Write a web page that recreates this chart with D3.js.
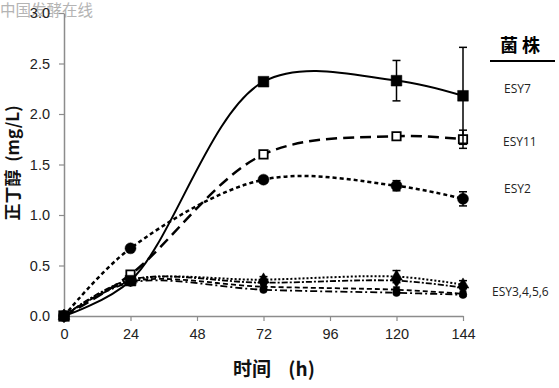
<!DOCTYPE html>
<html>
<head>
<meta charset="utf-8">
<script src="https://cdn.jsdelivr.net/npm/d3@7"></script>
<style>
  body { margin: 0; background: #fff; }
  svg { display: block; }
</style>
</head>
<body>
<svg width="559" height="388"></svg>
<script>
// time points (h)
const hours = [0, 24, 72, 120, 144]
const yTicks = [0, 0.5, 1.0, 1.5, 2.0, 2.5, 3.0]

// butanol (mg/L)
const esy7 = [0, 0.35, 2.32, 2.33, 2.18]
const esy7Err = [0, 0.02, 0.03, 0.2, 0.48]
const esy11 = [0, 0.41, 1.60, 1.78, 1.75]
const esy11Err = [0, 0.02, 0.03, 0.03, 0.09]
const esy2 = [0, 0.67, 1.35, 1.29, 1.16]
const esy2Err = [0, 0.02, 0.03, 0.05, 0.07]
const esy3 = [0, 0.35, 0.36, 0.39, 0.31]
const esy3Err = [0, 0.02, 0.03, 0.06, 0.04]
const esy4 = [0, 0.36, 0.33, 0.35, 0.28]
const esy5 = [0, 0.34, 0.29, 0.26, 0.22]
const esy6 = [0, 0.33, 0.26, 0.23, 0.21]

const legendLabels = ["ESY7", "ESY11", "ESY2", "ESY3,4,5,6"]

const svg = d3.select('svg')

const x = d3.scaleLinear().domain([0, 144]).range([64, 463])
const y = d3.scaleLinear().domain([0, 3]).range([316, 13])

// watermark
svg.append('text')
    .attr('x', 0).attr('y', 16)
    .attr('font-family', 'Noto Sans CJK SC')
    .attr('font-size', 15.5)
    .attr('fill', '#b4b4b4')
    .text('中国发酵在线')

// axes
const yAxis = svg.append('g')
    .attr('transform', 'translate(64,0)')
    .call(d3.axisLeft(y).tickValues(yTicks).tickFormat(d3.format('.1f')).tickSize(5).tickSizeOuter(0).tickPadding(9))
const xAxis = svg.append('g')
    .attr('transform', 'translate(0,316)')
    .call(d3.axisBottom(x).tickValues(hours.concat([48, 96])).tickSize(5).tickSizeOuter(0).tickPadding(8))

;[yAxis, xAxis].forEach(g => {
    g.select('.domain').attr('stroke', '#8c8c8c').attr('stroke-width', 1.5)
    g.selectAll('.tick line').attr('stroke', '#8c8c8c').attr('stroke-width', 1.2)
    g.selectAll('.tick text')
        .attr('font-family', 'Liberation Sans, Arial, sans-serif')
        .attr('font-size', 14.5)
        .attr('fill', '#222')
})

// axis titles
svg.append('text')
    .attr('transform', 'translate(19,163) rotate(-90)')
    .attr('text-anchor', 'middle')
    .attr('font-family', 'Noto Sans CJK SC')
    .attr('font-weight', 'bold')
    .attr('font-size', 17)
    .attr('fill', '#111')
    .style('white-space', 'pre')
    .text('正丁醇  (mg/L)')

svg.append('text')
    .attr('x', 274).attr('y', 376)
    .attr('text-anchor', 'middle')
    .attr('font-family', 'Noto Sans CJK SC')
    .attr('font-weight', 'bold')
    .attr('font-size', 19)
    .attr('fill', '#111')
    .style('white-space', 'pre')
    .text('时间    (h)')

const line = d3.line()
    .x((d, i) => x(hours[i]))
    .y(d => y(d))
    .curve(d3.curveCatmullRom.alpha(0.5))

function drawErrors(vals, errs) {
    const g = svg.append('g').attr('stroke', '#000').attr('stroke-width', 1.5)
    vals.forEach((v, i) => {
        if (!errs[i]) return
        const cx = x(hours[i])
        g.append('line').attr('x1', cx).attr('x2', cx).attr('y1', y(v - errs[i])).attr('y2', y(v + errs[i]))
        g.append('line').attr('x1', cx - 4).attr('x2', cx + 4).attr('y1', y(v - errs[i])).attr('y2', y(v - errs[i]))
        g.append('line').attr('x1', cx - 4).attr('x2', cx + 4).attr('y1', y(v + errs[i])).attr('y2', y(v + errs[i]))
    })
}

function drawSeries(vals, dash, width, symbol, size, fill, errs) {
    svg.append('path')
        .datum(vals)
        .attr('d', line)
        .attr('fill', 'none')
        .attr('stroke', '#000')
        .attr('stroke-width', width)
        .attr('stroke-dasharray', dash)
    if (errs) drawErrors(vals, errs)
    svg.append('g').selectAll('path')
        .data(vals)
        .enter()
        .append('path')
        .attr('transform', (d, i) => `translate(${x(hours[i])},${y(d)})`)
        .attr('d', d3.symbol().type(symbol).size(size))
        .attr('fill', fill)
        .attr('stroke', '#000')
        .attr('stroke-width', fill == '#fff' ? 1.8 : 0.5)
}

// ESY3,4,5,6 group
drawSeries(esy6, '7,3,2,3', 1.8, d3.symbolCircle, 45, '#000', null)
drawSeries(esy5, '5,3', 1.8, d3.symbolSquare, 40, '#000', null)
drawSeries(esy4, '6,2,2,2', 1.8, d3.symbolDiamond, 55, '#000', null)
drawSeries(esy3, '2,2', 2, d3.symbolTriangle, 60, '#000', esy3Err)

drawSeries(esy2, '4,3', 2.5, d3.symbolCircle, 95, '#000', esy2Err)
drawSeries(esy11, '11,6', 2.5, d3.symbolSquare, 70, '#fff', esy11Err)
drawSeries(esy7, null, 2, d3.symbolSquare, 115, '#000', esy7Err)

// legend
svg.append('text')
    .attr('x', 520).attr('y', 52)
    .attr('text-anchor', 'middle')
    .attr('font-family', 'Noto Sans CJK SC')
    .attr('font-weight', 'bold')
    .attr('font-size', 18)
    .attr('fill', '#000')
    .text('菌 株')
svg.append('line')
    .attr('x1', 490).attr('x2', 555).attr('y1', 61).attr('y2', 61)
    .attr('stroke', '#000').attr('stroke-width', 2)

const legendY = [88, 141, 188, 291]
const legendX = [504, 503, 504, 492]
svg.append('g').selectAll('text')
    .data(legendLabels)
    .enter()
    .append('text')
    .attr('x', (d, i) => legendX[i])
    .attr('y', (d, i) => legendY[i] + 4.5)
    .attr('font-family', 'Open Sans, sans-serif')
    .attr('font-size', 12)
    .attr('fill', '#222')
    .text(d => d)
</script>
</body>
</html>
